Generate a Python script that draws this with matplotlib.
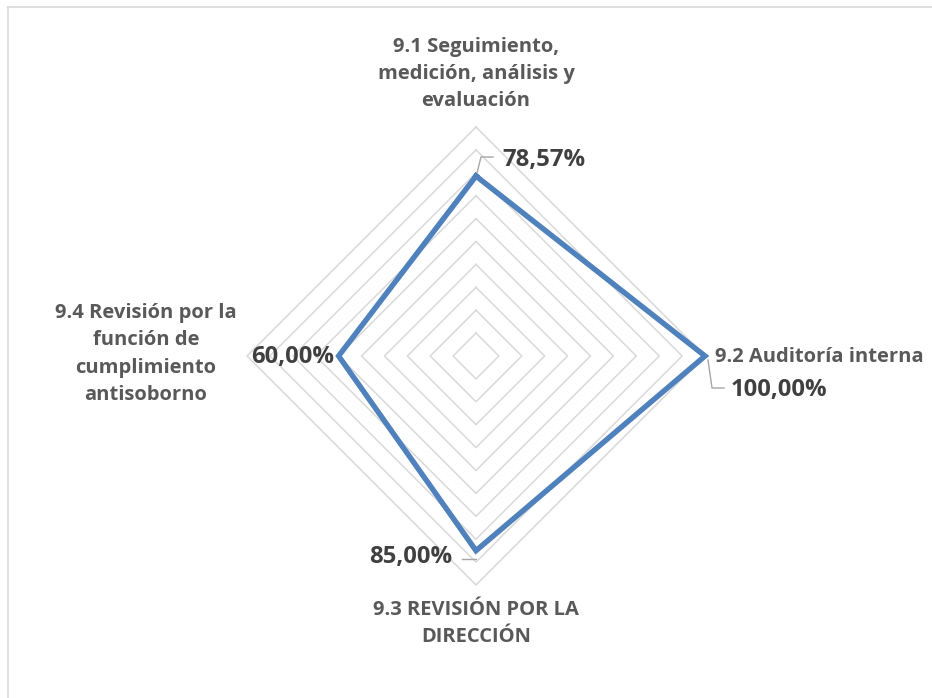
import numpy as np
import matplotlib
matplotlib.use("Agg")
import matplotlib.pyplot as plt
from matplotlib.lines import Line2D

categories = [
    "9.1 Seguimiento,\nmedición, análisis y\nevaluación",
    "9.2 Auditoría interna",
    "9.3 REVISIÓN POR LA\nDIRECCIÓN",
    "9.4 Revisión por la\nfunción de\ncumplimiento\nantisoborno",
]
values = [78.57, 100.0, 85.0, 60.0]
value_labels = ["78,57%", "100,00%", "85,00%", "60,00%"]
grid_levels = [10, 20, 30, 40, 50, 60, 70, 80, 90, 100]

W, H = 932, 698
CX, CY = 476, 356          # centre of the radar in pixels (from top-left)
PX = 2.29                  # pixels per percent unit

fig = plt.figure(figsize=(W / 100, H / 100), dpi=100)
ax = fig.add_axes([0, 0, 1, 1])
ax.set_xlim(-CX / PX, (W - CX) / PX)
ax.set_ylim(-(H - CY) / PX, CY / PX)
ax.axis("off")

# axes go clockwise from the top
angles = np.pi / 2 - np.arange(len(categories)) * 2 * np.pi / len(categories)
ca, sa = np.cos(angles), np.sin(angles)

# polygon gridlines
for lev in grid_levels:
    gx = np.append(lev * ca, lev * ca[0])
    gy = np.append(lev * sa, lev * sa[0])
    ax.plot(gx, gy, color="#D9D9D9", lw=1.1, zorder=1)

# data series
vx = np.append(np.array(values) * ca, values[0] * ca[0])
vy = np.append(np.array(values) * sa, values[0] * sa[0])
ax.plot(vx, vy, color="#4F81BD", lw=3.9, solid_joinstyle="miter", zorder=3)

def px(x, y):
    # pixel position (from top-left) to data coordinates
    return (x - CX) / PX, (CY - y) / PX

cat_font = dict(family="Open Sans", fontweight="bold", fontsize=14.5, color="#595959",
                linespacing=1.48)
val_font = dict(family="Open Sans", fontweight="bold", fontsize=17.2, color="#404040")

# category labels
ax.text(*px(476, 111), categories[0], ha="center", va="bottom", **cat_font)
ax.text(*px(715, 357), categories[1], ha="left", va="center", **cat_font)
ax.text(*px(476, 600), categories[2], ha="center", va="top", **cat_font)
ax.text(*px(146, 354), categories[3], ha="center", va="center", **cat_font)

# value labels
ax.text(*px(502, 160), value_labels[0], ha="left", va="center", **val_font)
ax.text(*px(731, 390), value_labels[1], ha="left", va="center", **val_font)
ax.text(*px(452, 557), value_labels[2], ha="right", va="center", **val_font)
ax.text(*px(334, 357), value_labels[3], ha="right", va="center", **val_font)

# leader lines
lead = dict(color="#A6A6A6", lw=1.0, zorder=2)
p = [px(477, 173), px(481, 157), px(493, 157)]
ax.plot([q[0] for q in p], [q[1] for q in p], **lead)
p = [px(708, 360), px(712, 388), px(724, 388)]
ax.plot([q[0] for q in p], [q[1] for q in p], **lead)
p = [px(476, 559), px(462, 559)]
ax.plot([q[0] for q in p], [q[1] for q in p], **lead)

# chart frame (only top and left edges visible)
fig.add_artist(Line2D([8 / W, 1], [1 - 7 / H, 1 - 7 / H], color="#D9D9D9", lw=1.2,
                      transform=fig.transFigure))
fig.add_artist(Line2D([8 / W, 8 / W], [0, 1 - 7 / H], color="#D9D9D9", lw=1.2,
                      transform=fig.transFigure))

fig.savefig("out.png", dpi=100, facecolor="white")
